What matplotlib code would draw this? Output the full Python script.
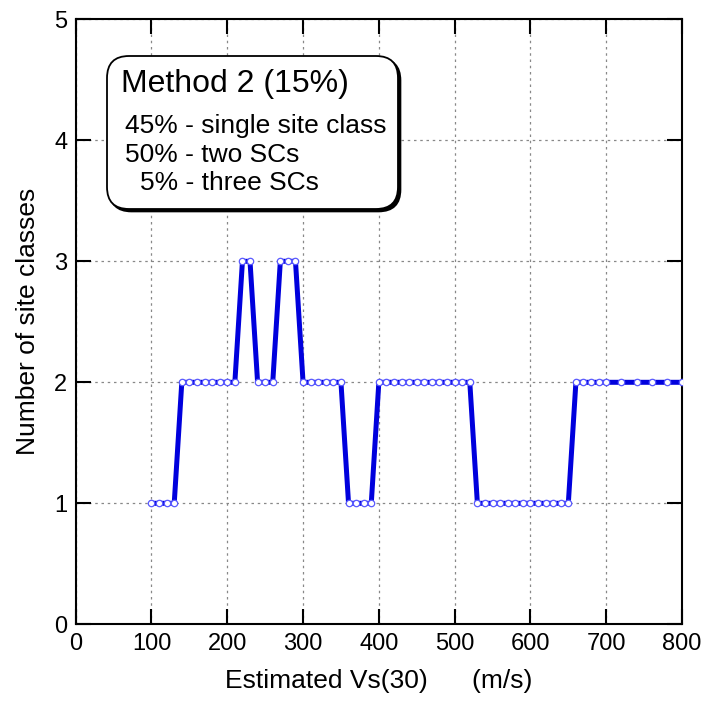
import numpy as np
import matplotlib
matplotlib.use("Agg")
import matplotlib.pyplot as plt
from matplotlib.patches import FancyBboxPatch

plt.rcParams['font.family'] = ['Liberation Sans', 'DejaVu Sans']

# Vs(30) bins and number of site classes
vs30 = [100, 110, 120, 130, 140, 150, 160, 170, 180, 190, 200, 210,
        220, 230, 240, 250, 260, 270, 280, 290, 300, 310, 320, 330,
        340, 350, 360, 370, 380, 390, 400, 410, 420, 430, 440, 450,
        460, 470, 480, 490, 500, 510, 520, 530, 540, 550, 560, 570,
        580, 590, 600, 610, 620, 630, 640, 650, 660, 670, 680, 690,
        700, 720, 740, 760, 780, 800]
n_classes = [1, 1, 1, 1, 2, 2, 2, 2, 2, 2, 2, 2,
             3, 3, 2, 2, 2, 3, 3, 3, 2, 2, 2, 2,
             2, 2, 1, 1, 1, 1, 2, 2, 2, 2, 2, 2,
             2, 2, 2, 2, 2, 2, 2, 1, 1, 1, 1, 1,
             1, 1, 1, 1, 1, 1, 1, 1, 2, 2, 2, 2,
             2, 2, 2, 2, 2, 2]

title_txt = "Method 2 (15%)"
box_lines = ["45% - single site class", "50% - two SCs", "5% - three SCs"]

W, H = 702, 704
fig = plt.figure(figsize=(W / 100, H / 100), dpi=100)
ax = fig.add_axes([75.7 / W, 1 - 624.3 / H, (682 - 75.7) / W, (624.3 - 19.3) / H])

ax.plot(vs30, n_classes, color="#0000dd", lw=3.6, zorder=3,
        marker="o", ms=4.6, mfc="white", mec="#5a5aff", mew=0.9)

ax.set_xlim(0, 800)
ax.set_ylim(0, 5)
ax.set_xticks(np.arange(0, 801, 100))
ax.set_yticks(np.arange(0, 6, 1))
ax.grid(True, color="#888888", ls=(0, (2, 3)), lw=0.9)
ax.tick_params(direction="in", length=11, width=1.5, top=True, right=True,
               labelsize=17, pad=6)
for s in ax.spines.values():
    s.set_linewidth(1.5)

ax.set_xlabel("Estimated Vs(30)      (m/s)", fontsize=19, labelpad=10)
ax.set_ylabel("Number of site classes", fontsize=19, labelpad=10)

# rounded annotation box with a shadow (figure inches)
bx, by, bw, bh = 1.07, 4.95, 2.91, 1.53
shadow = FancyBboxPatch((bx + 0.025, by - 0.025), bw, bh,
                        boxstyle="round,pad=0,rounding_size=0.22",
                        transform=fig.dpi_scale_trans, fc="black", ec="black",
                        lw=1.2, zorder=5)
box = FancyBboxPatch((bx, by), bw, bh,
                     boxstyle="round,pad=0,rounding_size=0.22",
                     transform=fig.dpi_scale_trans, fc="white", ec="black",
                     lw=1.3, zorder=6)
fig.patches.extend([shadow, box])

fig.text(121 / W, 1 - 92 / H, title_txt, fontsize=23, va="baseline", zorder=7)
line_x = [125, 125, 140]
line_y = [133, 161.5, 190]
for t, lx, ly in zip(box_lines, line_x, line_y):
    fig.text(lx / W, 1 - ly / H, t, fontsize=19, va="baseline", zorder=7)

fig.savefig("out.png", dpi=100)
